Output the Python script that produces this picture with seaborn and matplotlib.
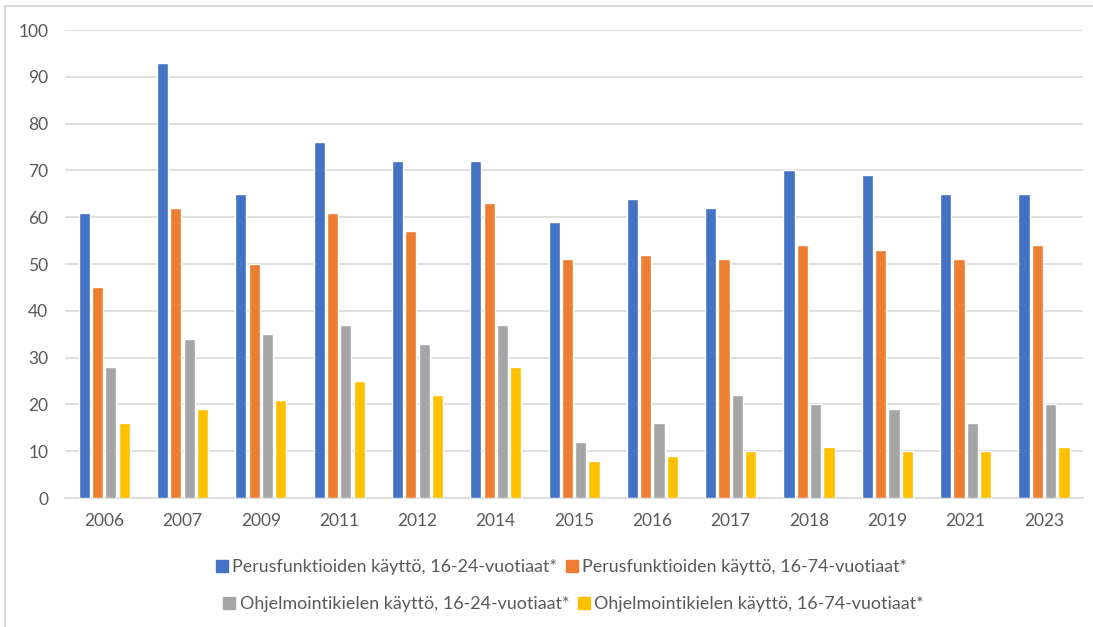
import pandas as pd
import matplotlib.pyplot as plt
import matplotlib.lines as mlines
import seaborn as sns

# Data
years = ["2006", "2007", "2009", "2011", "2012", "2014", "2015", "2016", "2017", "2018", "2019", "2021", "2023"]
perus_16_24 = [61, 93, 65, 76, 72, 72, 59, 64, 62, 70, 69, 65, 65]
perus_16_74 = [45, 62, 50, 61, 57, 63, 51, 52, 51, 54, 53, 51, 54]
ohjel_16_24 = [28, 34, 35, 37, 33, 37, 12, 16, 22, 20, 19, 16, 20]
ohjel_16_74 = [16, 19, 21, 25, 22, 28, 8, 9, 10, 11, 10, 10, 11]
series_names = [
    "Perusfunktioiden käyttö, 16-24-vuotiaat*",
    "Perusfunktioiden käyttö, 16-74-vuotiaat*",
    "Ohjelmointikielen käyttö, 16-24-vuotiaat*",
    "Ohjelmointikielen käyttö, 16-74-vuotiaat*",
]
colors = ["#4472C4", "#ED7D31", "#A5A5A5", "#FFC000"]

df = pd.DataFrame({"Vuosi": years,
                   series_names[0]: perus_16_24,
                   series_names[1]: perus_16_74,
                   series_names[2]: ohjel_16_24,
                   series_names[3]: ohjel_16_74})
long_df = df.melt(id_vars="Vuosi", var_name="Sarja", value_name="Arvo")

sns.set_style("white")
plt.rcParams["font.family"] = ["Lato", "DejaVu Sans"]

fig = plt.figure(figsize=(10.93, 6.27), dpi=100)
ax = fig.add_axes([0.0595, 0.2057, 0.9315, 0.7463])

sns.barplot(data=long_df, x="Vuosi", y="Arvo", hue="Sarja", hue_order=series_names,
            palette=colors, width=0.68, gap=0.16, saturation=1, ax=ax, legend=False,
            zorder=3)

ax.set_ylim(0, 100)
ax.set_yticks(range(0, 101, 10))
ax.set_xlim(-0.5, len(years) - 0.5)
ax.grid(axis="y", color="#D9D9D9", linewidth=1.2, zorder=0)
ax.set_axisbelow(True)
for s in ["top", "right", "left"]:
    ax.spines[s].set_visible(False)
ax.spines["bottom"].set_color("#D9D9D9")
ax.spines["bottom"].set_linewidth(1.2)
ax.tick_params(axis="both", length=0, labelsize=12.5, labelcolor="#595959")
ax.tick_params(axis="x", pad=11)
ax.tick_params(axis="y", pad=12)
ax.set_xlabel("")
ax.set_ylabel("")

# Legend (two rows)
handles = [mlines.Line2D([], [], marker="s", linestyle="", markersize=9,
                         color=c) for c in colors]
leg_kw = dict(loc="center", ncol=2, frameon=False, fontsize=12.9, labelcolor="#595959",
              handlelength=0.6, handletextpad=0.3, columnspacing=0.5)
fig.legend(handles[:2], series_names[:2], bbox_to_anchor=(0.514, 0.095), **leg_kw)
fig.legend(handles[2:], series_names[2:], bbox_to_anchor=(0.525, 0.037), **leg_kw)

# Light border around the chart
border = plt.Rectangle((0.0045, -0.01), 1.0, 1.0, transform=fig.transFigure,
                       fill=False, edgecolor="#D9D9D9", linewidth=1.5)
fig.add_artist(border)

fig.savefig("out.png", dpi=100)
